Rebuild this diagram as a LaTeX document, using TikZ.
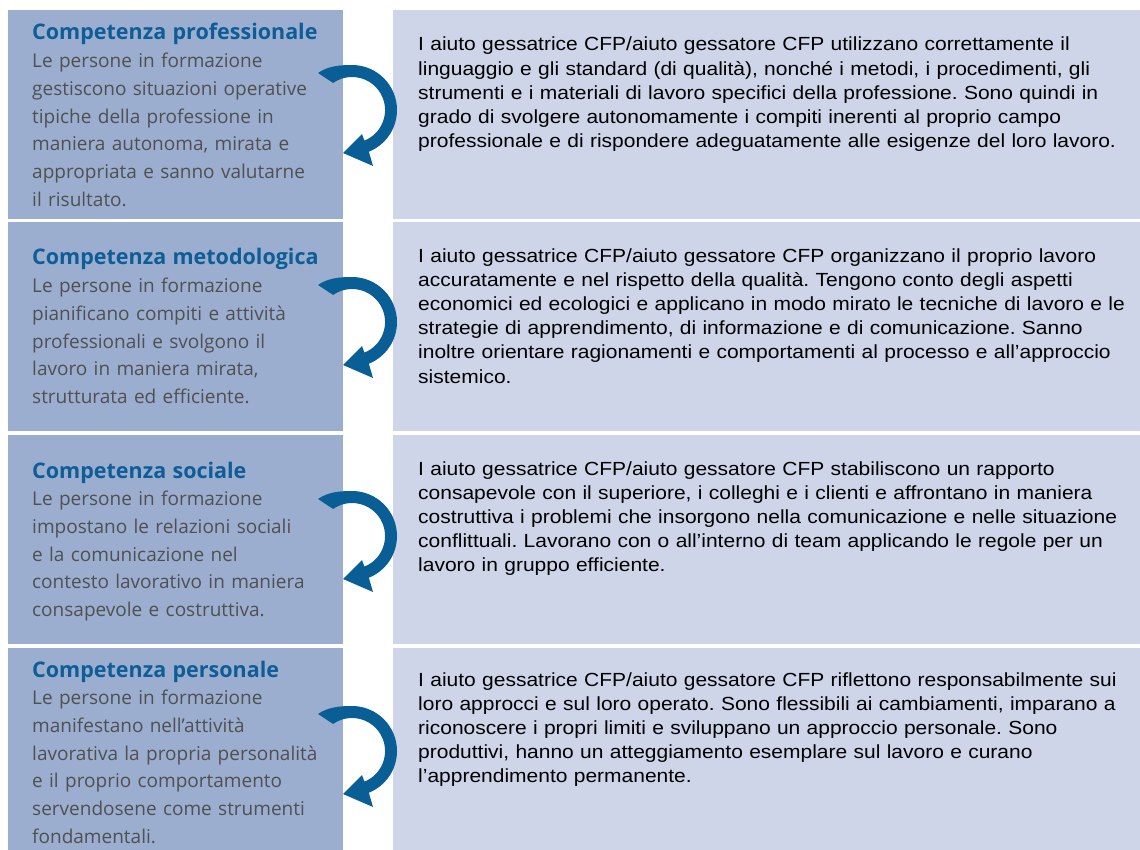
\documentclass[tikz,border=0pt]{standalone}
\usepackage{fontspec}
\setmainfont[FakeStretch=1.105]{Liberation Sans}
\newfontfamily\leftfont{Open Sans}
\definecolor{leftbox}{RGB}{155,174,208}
\definecolor{rightbox}{RGB}{206,213,232}
\definecolor{titleblue}{RGB}{14,93,150}
\definecolor{arrowblue}{RGB}{10,94,150}
\definecolor{bodygray}{RGB}{80,80,80}
\tikzset{
  lbox/.style={fill=leftbox},
  rbox/.style={fill=rightbox},
  lefttext/.style={anchor=base west, inner sep=0pt, text width=330pt, align=left,
    text=bodygray, font={\frenchspacing\leftfont\fontsize{19}{27.7}\selectfont}},
  righttext/.style={anchor=base west, inner sep=0pt, text width=740pt, align=left,
    text=black, font={\frenchspacing\fontsize{19}{24.2}\selectfont}},
  curlarrow/.pic={
    \fill[arrowblue] (-34,-37) .. controls (-24,-44) and (-12,-45) .. (0,-45)
      arc[start angle=-90, end angle=68, radius=45]
      -- (21,56) -- (-9,43) -- (10,24) -- (12.4,30.6)
      arc[start angle=68, end angle=-125, radius=33] -- cycle;
  }
}
\newcommand{\ttl}[1]{{\fontsize{21.5}{27.7}\selectfont\bfseries\color{titleblue}#1}}
\begin{document}
\begin{tikzpicture}[x=1pt,y=-1pt]
\useasboundingbox (0,0) rectangle (1140,850);
% boxes
\fill[lbox] (8,10) rectangle (343,219);
\fill[lbox] (8,222) rectangle (343,431);
\fill[lbox] (8,435) rectangle (343,644);
\fill[lbox] (8,648) rectangle (343,850);
\fill[rbox] (393,10) rectangle (1140,219);
\fill[rbox] (393,222) rectangle (1140,431);
\fill[rbox] (393,435) rectangle (1140,644);
\fill[rbox] (393,648) rectangle (1140,850);
% left texts
\node[lefttext] (l1) at (32,40) {\ttl{Competenza professionale}\\
Le persone in formazione\\
gestiscono situazioni operative\\
tipiche della professione in\\
maniera autonoma, mirata e\\
appropriata e sanno valutarne\\
il risultato.};
\node[lefttext] (l2) at (32,265) {\ttl{Competenza metodologica}\\
Le persone in formazione\\
pianificano compiti e attività\\
professionali e svolgono il\\
lavoro in maniera mirata,\\
strutturata ed efficiente.};
\node[lefttext] (l3) at (32,478) {\ttl{Competenza sociale}\\
Le persone in formazione\\
impostano le relazioni sociali\\
e la comunicazione nel\\
contesto lavorativo in maniera\\
consapevole e costruttiva.};
\node[lefttext] (l4) at (32,677) {\ttl{Competenza personale}\\
Le persone in formazione\\
manifestano nell’attività\\
lavorativa la propria personalità\\
e il proprio comportamento\\
servendosene come strumenti\\
fondamentali.};
% right texts
\node[righttext] (r1) at (418,51) {I aiuto gessatrice CFP/aiuto gessatore CFP utilizzano correttamente il\\
linguaggio e gli standard (di qualità), nonché i metodi, i procedimenti, gli\\
strumenti e i materiali di lavoro specifici della professione. Sono quindi in\\
grado di svolgere autonomamente i compiti inerenti al proprio campo\\
professionale e di rispondere adeguatamente alle esigenze del loro lavoro.};
\node[righttext] (r2) at (418,262) {I aiuto gessatrice CFP/aiuto gessatore CFP organizzano il proprio lavoro\\
accuratamente e nel rispetto della qualità. Tengono conto degli aspetti\\
economici ed ecologici e applicano in modo mirato le tecniche di lavoro e le\\
strategie di apprendimento, di informazione e di comunicazione. Sanno\\
inoltre orientare ragionamenti e comportamenti al processo e all’approccio\\
sistemico.};
\node[righttext] (r3) at (418,475) {I aiuto gessatrice CFP/aiuto gessatore CFP stabiliscono un rapporto\\
consapevole con il superiore, i colleghi e i clienti e affrontano in maniera\\
costruttiva i problemi che insorgono nella comunicazione e nelle situazione\\
conflittuali. Lavorano con o all’interno di team applicando le regole per un\\
lavoro in gruppo efficiente.};
\node[righttext] (r4) at (418,686) {I aiuto gessatrice CFP/aiuto gessatore CFP riflettono responsabilmente sui\\
loro approcci e sul loro operato. Sono flessibili ai cambiamenti, imparano a\\
riconoscere i propri limiti e sviluppano un approccio personale. Sono\\
produttivi, hanno un atteggiamento esemplare sul lavoro e curano\\
l’apprendimento permanente.};
% arrows
\pic at (352,110) {curlarrow};
\pic at (352,322) {curlarrow};
\pic at (352,536) {curlarrow};
\pic at (352,751) {curlarrow};
\end{tikzpicture}
\end{document}
